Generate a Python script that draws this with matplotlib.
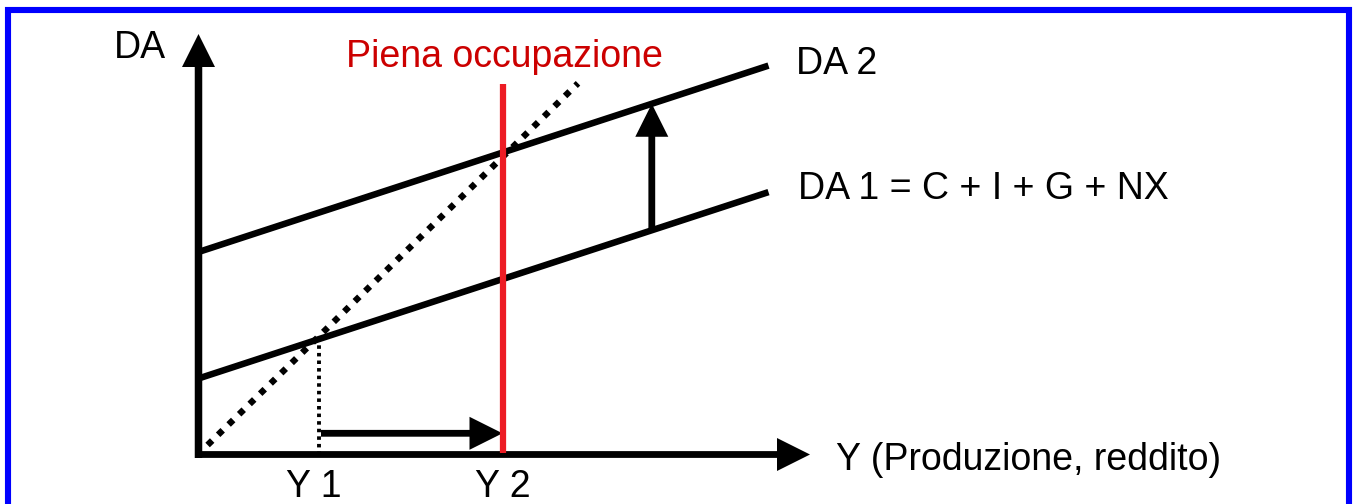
"""
Diagramma keynesiano: domanda aggregata (DA) e piena occupazione.
Spostamento da DA 1 a DA 2 che porta il reddito da Y 1 a Y 2.
"""
import matplotlib
matplotlib.use("Agg")
import matplotlib.pyplot as plt
from matplotlib.patches import FancyArrow, Rectangle

# ── Data (diagram units, origin at the axes corner) ───────────────────────
da_slope = 0.327
da1_intercept = 7.6
da2_intercept = 20.25
da_x_end = 57.0

bisector_x = [0.91, 37.95]
bisector_y = [0.95, 37.12]

y1 = 12.08
y2 = 30.4
full_emp_top = 37.05

shift_arrow_y = 2.12          # horizontal arrow Y1 -> Y2
da_shift_x = 45.33            # vertical arrow DA1 -> DA2

y_axis_top = 42.05
x_axis_end = 61.15

labels = {
    "DA": (-8.45, 39.62),
    "DA 2": (59.75, 38.05),
    "DA 1 = C + I + G + NX": (60.0, 25.52),
    "Y (Produzione, reddito)": (63.75, -1.55),
    "Y 1": (8.75, -4.25),
    "Y 2": (27.65, -4.25),
}
red_label = ("Piena occupazione", (14.75, 38.78))

# ── Style ─────────────────────────────────────────────────────────────────
plt.rcParams["font.family"] = ["Liberation Sans", "DejaVu Sans"]
FONT_SIZE = 27
RED_LINE = "#ED1C24"
RED_TEXT = "#CC0000"
BLUE = "#0000FF"
SHAFT = 0.68
HEAD = 3.3

fig = plt.figure(figsize=(13.54, 5.04), dpi=100)
ax = fig.add_axes([0, 0, 1, 1])
ax.set_xlim(-19.85, 115.55)
ax.set_ylim(-4.95, 45.45)
ax.axis("off")

# blue frame (bottom edge falls outside the picture)
ax.add_patch(Rectangle((-19.1, -8.0), 115.05 + 19.1, 44.45 + 8.0,
                       fill=False, edgecolor=BLUE, linewidth=4.4))


def arrow(x0, y0, x1, y1_, shaft=SHAFT):
    ax.add_patch(FancyArrow(x0, y0, x1 - x0, y1_ - y0, width=shaft,
                            head_width=HEAD, head_length=HEAD,
                            length_includes_head=True, color="black", lw=0))


# axes
arrow(0, -0.35, 0, y_axis_top, shaft=0.75)
arrow(-0.35, 0, x_axis_end, 0)

# aggregate demand lines
for b in (da1_intercept, da2_intercept):
    ax.plot([0, da_x_end], [b, b + da_slope * da_x_end],
            color="black", lw=4.7, solid_capstyle="butt")

# 45 degree line (square dashes -> diamonds)
ax.plot(bisector_x, bisector_y, color="black", lw=4.6,
        dashes=(1.0, 1.3), dash_capstyle="butt")

# Y1 drop line
ax.plot([y1, y1], [0, da1_intercept + da_slope * y1], color="black",
        lw=2.8, dashes=(0.9, 1.05), dash_capstyle="butt")

# full employment line
ax.plot([y2, y2], [0.15, full_emp_top], color=RED_LINE, lw=4.5,
        solid_capstyle="butt")

# shift arrows
arrow(y1 + 0.17, shift_arrow_y, y2, shift_arrow_y)
arrow(da_shift_x, da1_intercept + da_slope * da_shift_x,
      da_shift_x, da2_intercept + da_slope * da_shift_x)

# labels
for txt, (x, y) in labels.items():
    ax.text(x, y, txt, fontsize=FONT_SIZE, color="black",
            ha="left", va="baseline")
ax.text(*red_label[1], red_label[0], fontsize=FONT_SIZE, color=RED_TEXT,
        ha="left", va="baseline")

fig.savefig("out.png", dpi=100, facecolor="white")
